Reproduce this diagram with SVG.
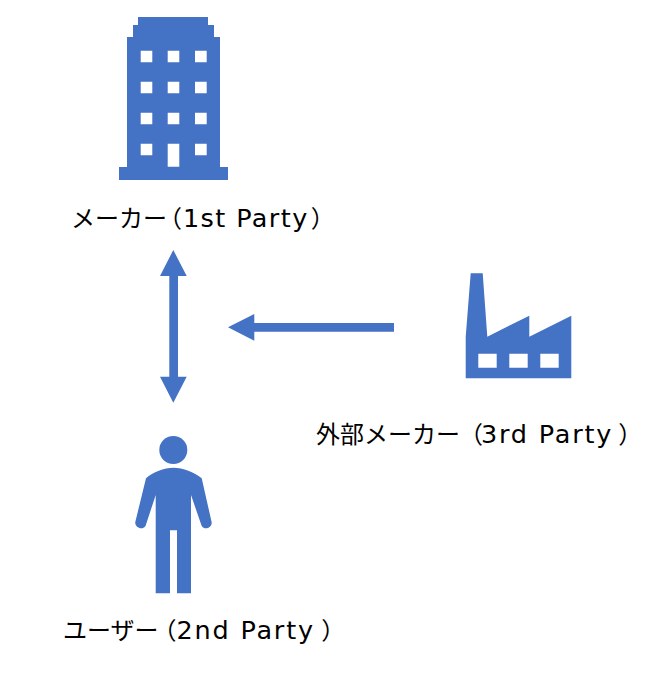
<svg xmlns="http://www.w3.org/2000/svg" width="670" height="678" viewBox="0 0 670 678">
<style>
.i{fill:#4472C4;fill-rule:evenodd}
.t{font-family:"Noto Sans CJK JP","Noto Sans",sans-serif;font-size:24px;fill:#000}
.l{font-family:"DejaVu Sans","Noto Sans CJK JP",sans-serif;font-size:25.500px;letter-spacing:1.800px}
</style>
<rect width="670" height="678" fill="#fff"/>
<g id="maker">
<path class="i" d="M119 180V167H127V37H133V25H138V17H208V25H214V37H220V167H228V180ZM140.700 50.700V62.300H152.300V50.700ZM167.700 50.700V62.300H179.300V50.700ZM195 50.700V62.300H206.700V50.700ZM140.700 81.700V93.300H152.300V81.700ZM167.700 81.700V93.300H179.300V81.700ZM195 81.700V93.300H206.700V81.700ZM140.700 112.700V124.300H152.300V112.700ZM167.700 112.700V124.300H179.300V112.700ZM195 112.700V124.300H206.700V112.700ZM140.700 143.700V155.300H152.300V143.700ZM167.700 143.700V166.700H179.300V143.700ZM195 143.700V155.300H206.700V143.700Z"/>
<text class="t" x="71" y="227">メーカ<tspan letter-spacing="-9px">ー</tspan><tspan letter-spacing="1px">（</tspan><tspan class="l" style="letter-spacing:1.400px">1st Party</tspan><tspan dx="2">）</tspan></text>
</g>
<g id="third-party">
<path class="i" d="M465.700 378.300V336.700L470.700 273.300H482.700L487.300 336.700L529.300 315.700V336.700L571.300 315.700V378.300ZM478.300 353.700V367.700H496.700V353.700ZM509.300 353.700V367.700H527.700V353.700ZM540.300 353.700V367.700H558.700V353.700Z"/>
<text class="t" x="316" y="443">外部メーカ<tspan letter-spacing="-1px">ー</tspan><tspan letter-spacing="-2px">（</tspan><tspan class="l">3rd Party</tspan><tspan dx="5">）</tspan></text>
</g>
<g id="user">
<circle class="i" cx="173.300" cy="450" r="14"/>
<path class="i" d="M146 478.300C153 472 164 467.700 173.500 467.700C183 467.700 194 472 201.700 478.300L211.600 522C212.600 527 205 531 201.700 526L191 495V593.300H177V530.300H170V593.300H155.700V495L145.500 526C142 531 134.500 527 135.300 522Z"/>
<text class="t" x="63" y="639">ユーザ<tspan letter-spacing="-6px">ー</tspan>（<tspan class="l">2nd Party</tspan><tspan dx="6.500">）</tspan></text>
</g>
<g id="connectors">
<path class="i" d="M173.300 250L186.700 276H178V376.700H186.700L173.300 402.700L160 376.700H169.300V276H160Z"/>
<path class="i" d="M228 327.300L254.300 314V323H394V331.700H254.300V340.700Z"/>
</g>
</svg>
